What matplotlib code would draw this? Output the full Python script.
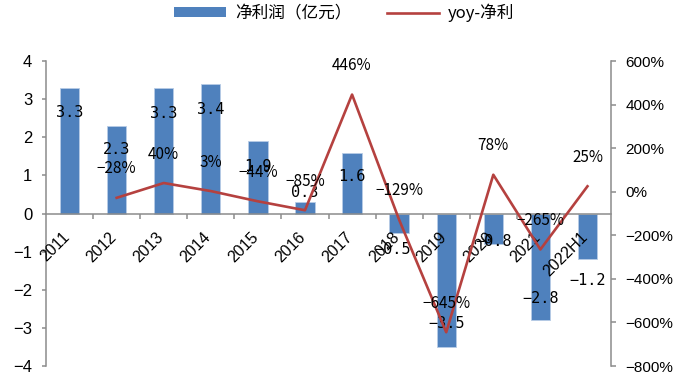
import matplotlib as mpl
mpl.use("Agg")
import matplotlib.pyplot as plt
from matplotlib.lines import Line2D
from matplotlib.patches import Patch
import numpy as np

YEARS = ["2011", "2012", "2013", "2014", "2015", "2016", "2017", "2018", "2019", "2020", "2021", "2022H1"]
PROFIT = [3.3, 2.3, 3.3, 3.4, 1.9, 0.3, 1.6, -0.5, -3.5, -0.8, -2.8, -1.2]
YOY = [np.nan, -28, 40, 3, -44, -85, 446, -129, -645, 78, -265, 25]

# label nudges in pixels (dx, dy) relative to the bar end
BAR_LABEL_NUDGE = [(0, -25), (0, -24), (0, -26), (0, -26), (0, -25), (0, 10),
                   (0, -24), (-7, -17), (0, 23), (0, 3), (0, 22), (0, -21)]

BLUE = "#4F81BD"
RED = "#B5413F"
GREY = "#8C8C8C"
CJK = ["Noto Sans CJK SC", "DejaVu Sans"]
LAT = ["Liberation Sans", "DejaVu Sans"]
MONO = ["DejaVu Sans Mono"]
PX = 72 / 100  # pixels -> points at dpi 100

fig = plt.figure(figsize=(6.88, 3.78), dpi=100)
ax = fig.add_axes([0.0669, 0.0317, 0.8212, 0.8069])
x = np.arange(len(YEARS))

ax.bar(x, PROFIT, width=0.41, color=BLUE, edgecolor="#B7CCE6", linewidth=0.6, zorder=2)
ax.set_xlim(-0.5, len(YEARS) - 0.5)
ax.set_ylim(-4, 4)
ax.set_yticks(range(-4, 5))
ax.tick_params(axis="y", direction="out", length=3, width=1.1, color=GREY, pad=7,
               labelsize=12)
for t in ax.get_yticklabels():
    t.set_family(LAT)

for s in ["top", "right"]:
    ax.spines[s].set_visible(False)
ax.spines["left"].set_color(GREY)
ax.spines["left"].set_linewidth(1.1)
ax.spines["bottom"].set_position(("data", 0))
ax.spines["bottom"].set_color(GREY)
ax.spines["bottom"].set_linewidth(1.1)
ax.set_xticks(np.arange(0.5, len(YEARS) - 0.5, 1.0))
ax.set_xticklabels([])
ax.tick_params(axis="x", direction="out", length=3.5, width=1.1, color=GREY)

for i, yr in enumerate(YEARS):
    ax.annotate(yr, xy=(i, 0), xytext=(3 * PX, -16 * PX), textcoords="offset points",
                rotation=45, ha="right", va="top", fontsize=11.5, family=LAT, zorder=3)

for i, v in enumerate(PROFIT):
    dx, dy = BAR_LABEL_NUDGE[i]
    ax.annotate(f"{v:.1f}".replace("-", "−"), xy=(i, v), xytext=(dx * PX, dy * PX),
                textcoords="offset points", ha="center", va="center",
                fontsize=11, family=MONO, zorder=4)

ax2 = ax.twinx()
ax2.set_ylim(-800, 600)
ax2.set_yticks(range(-800, 601, 200))
ax2.set_yticklabels([f"{v}%".replace("-", "−") for v in range(-800, 601, 200)])
ax2.plot(x, YOY, color=RED, lw=1.9, zorder=3)
for s in ["top", "left", "bottom"]:
    ax2.spines[s].set_visible(False)
ax2.spines["right"].set_color(GREY)
ax2.spines["right"].set_linewidth(1.1)
ax2.tick_params(axis="y", direction="out", length=3.5, width=1.1, color=GREY, pad=7,
                labelsize=11)
for t in ax2.get_yticklabels():
    t.set_family(LAT)

for i, v in enumerate(YOY):
    if np.isnan(v):
        continue
    ax2.annotate(f"{v:.0f}%".replace("-", "−"), xy=(i, v), xytext=(0, 29 * PX),
                 textcoords="offset points", ha="center", va="center",
                 fontsize=11, family=CJK, zorder=5)

handles = [Patch(facecolor=BLUE, edgecolor="none"), Line2D([], [], color=RED, lw=1.9)]
fig.legend(handles, ["净利润（亿元）", "yoy-净利"], loc="center", bbox_to_anchor=(0.5, 0.966),
           ncol=2, frameon=False, prop={"family": CJK, "size": 12},
           handlelength=3.1, handleheight=0.5, handletextpad=0.55, columnspacing=2.15)

fig.savefig("out.png", dpi=100, facecolor="white")
